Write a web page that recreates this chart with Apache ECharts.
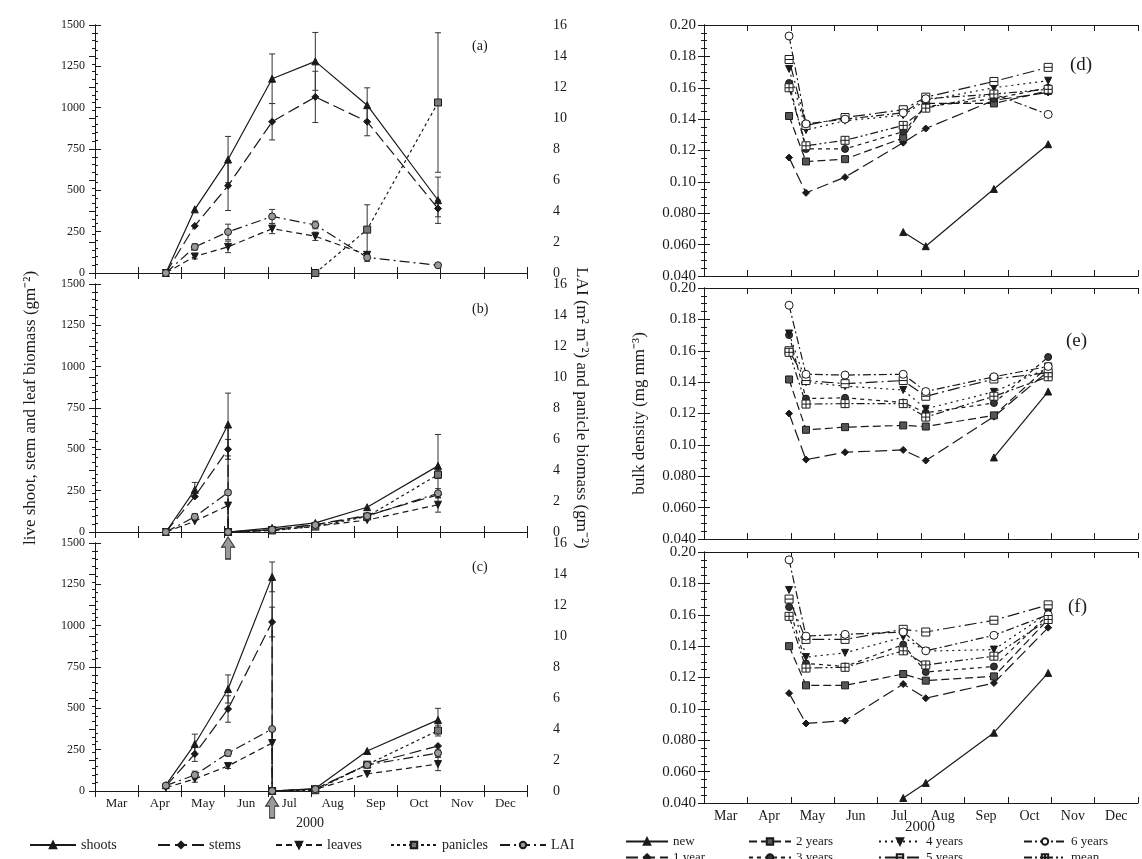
<!DOCTYPE html>
<html>
<head>
<meta charset="utf-8">
<script src="https://cdn.jsdelivr.net/npm/echarts@6/dist/echarts.min.js"></script>
<style>
  html, body { margin: 0; padding: 0; background: #fff; }
  #chart { width: 1142px; height: 859px; }
</style>
</head>
<body>
<div id="chart"></div>
<script>
// month axis: 0 = 1 March, 10 = 1 January
const months = ['Mar', 'Apr', 'May', 'Jun', 'Jul', 'Aug', 'Sep', 'Oct', 'Nov', 'Dec'];

// ---- panel (a)
const datesA = [1.64, 2.31, 3.08, 4.10, 5.10, 6.30, 7.94];
const shootsA = [0, 385, 686, 1175, 1280, 1015, 440];
const shootsAErr = [0, 0, 140, 150, 175, 105, 140];
const stemsA = [0, 285, 528, 915, 1065, 915, 390];
const stemsAErr = [0, 0, 150, 110, 155, 85, 50];
const leavesA = [0, 100, 158, 268, 222, 110, null];
const leavesAErr = [0, 15, 35, 30, 25, 0, 0];
const laiA = [0, 1.68, 2.65, 3.65, 3.1, 1.0, 0.5];
const laiAErr = [0, 0.2, 0.5, 0.45, 0.25, 0.25, 0];
const panDatesA = [5.10, 6.30, 7.94];
const panA = [0, 2.8, 11.0];
const panAErr = [0, 1.6, 4.5];

// ---- panel (b), cut in June
const harvestB = 3.08;
const datesB = [1.64, 2.31, 3.08, 3.08, 4.10, 5.10, 6.30, 7.94];
const shootsB = [0, 255, 650, 0, 25, 55, 150, 400];
const shootsBErr = [0, 45, 190, 0, 0, 0, 0, 190];
const stemsB = [0, 215, 500, 0, 15, 45, 100, 225];
const stemsBErr = [0, 0, 60, 0, 0, 0, 0, 0];
const leavesB = [0, 65, 160, 0, 10, 35, 72, 165];
const leavesBErr = [0, 0, 0, 0, 0, 0, 0, 45];
const laiB = [0, 0.98, 2.55, 0, 0.15, 0.45, 1.03, 2.5];
const laiBErr = [0, 0.2, 0, 0, 0, 0, 0, 0.3];
const panDatesB = [3.08, 4.10, 5.10, 6.30, 7.94];
const panB = [0, 0.1, 0.35, 1.0, 3.7];
const panBErr = [0, 0, 0, 0, 0.25];

// ---- panel (c), cut in July
const harvestC = 4.10;
const datesC = [1.64, 2.31, 3.08, 4.10, 4.10, 5.10, 6.30, 7.94];
const shootsC = [35, 284, 617, 1295, 0, 15, 242, 430];
const shootsCErr = [0, 60, 85, 90, 0, 0, 0, 70];
const stemsC = [30, 224, 496, 1022, 0, 12, 160, 272];
const stemsCErr = [0, 45, 80, 90, 0, 0, 0, 0];
const leavesC = [20, 73, 151, 290, 0, 10, 103, 163];
const leavesCErr = [0, 20, 15, 0, 0, 0, 0, 40];
const laiC = [0.35, 1.03, 2.45, 4.0, 0, 0.12, 1.68, 2.45];
const laiCErr = [0.1, 0.25, 0.2, 0, 0, 0, 0, 0.2];
const panDatesC = [4.10, 5.10, 6.30, 7.94];
const panC = [0, 0.05, 1.7, 3.9];
const panCErr = [0, 0, 0, 0.35];

// ---- bulk density panels (d), (e), (f)
const densDates = [1.96, 2.35, 3.25, 4.59, 5.11, 6.68, 7.93];
const ageNames = ['new', '1 year', '2 years', '3 years', '4 years', '5 years', '6 years', 'mean'];

const newD   = [null, null, null, 0.068, 0.059, 0.0955, 0.124];
const y1D    = [0.1155, 0.093, 0.103, 0.125, 0.134, 0.152, 0.157];
const y2D    = [0.142, 0.113, 0.1145, 0.128, 0.150, 0.150, 0.158];
const y3D    = [0.163, 0.121, 0.121, 0.132, 0.148, 0.153, 0.160];
const y4D    = [0.172, 0.133, 0.139, 0.1425, 0.152, 0.160, 0.1645];
const y5D    = [0.178, 0.136, 0.141, 0.146, 0.154, 0.164, 0.173];
const y6D    = [0.193, 0.137, 0.140, 0.144, 0.153, 0.156, 0.143];
const meanD  = [0.160, 0.123, 0.1265, 0.136, 0.147, 0.156, 0.159];

const newE   = [null, null, null, null, null, 0.092, 0.134];
const y1E    = [0.120, 0.0906, 0.0953, 0.0968, 0.090, 0.118, 0.147];
const y2E    = [0.1417, 0.1096, 0.1113, 0.1124, 0.1117, 0.1188, 0.150];
const y3E    = [0.170, 0.1295, 0.130, 0.127, 0.1205, 0.1267, 0.156];
const y4E    = [0.171, 0.140, 0.1374, 0.135, 0.123, 0.1338, 0.149];
const y5E    = [0.160, 0.141, 0.139, 0.141, 0.131, 0.142, 0.146];
const y6E    = [0.189, 0.145, 0.1445, 0.145, 0.134, 0.1434, 0.150];
const meanE  = [0.159, 0.126, 0.1263, 0.1263, 0.1177, 0.131, 0.1434];

const newF   = [null, null, null, 0.0432, 0.0528, 0.0848, 0.1229];
const y1F    = [0.110, 0.0907, 0.0925, 0.1158, 0.1068, 0.1165, 0.1518];
const y2F    = [0.140, 0.115, 0.115, 0.1222, 0.118, 0.1207, 0.157];
const y3F    = [0.165, 0.129, 0.127, 0.141, 0.1235, 0.127, 0.160];
const y4F    = [0.1758, 0.133, 0.1357, 0.1458, 0.1368, 0.1378, 0.161];
const y5F    = [0.170, 0.1443, 0.1443, 0.1507, 0.149, 0.1565, 0.1663];
const y6F    = [0.195, 0.1464, 0.1475, 0.149, 0.137, 0.1469, 0.160];
const meanF  = [0.159, 0.126, 0.1265, 0.137, 0.128, 0.1336, 0.157];

const FONT = 'Liberation Serif';
const INK = '#1a1a1a';

const zip = (xs, ys) => xs.map((x, i) => [x, ys[i] == null ? '-' : ys[i]]);
const errData = (xs, ys, es) => xs.map((x, i) => [x, ys[i], es[i]])
  .filter(d => d[1] != null && d[2] > 0)
  .map(d => [d[0], d[1] - d[2], d[1] + d[2]]);

// grids
const leftTops = [25, 284, 543];
const rightTops = [25, 288, 552];
const grids = [];
leftTops.forEach(t => grids.push({ left: 95, width: 432, top: t, height: 248 }));
rightTops.forEach(t => grids.push({ left: 704, width: 434, top: t, height: 251 }));

const tickStyle = { inside: true, length: 6, lineStyle: { color: INK } };
const minorStyle = { show: true, length: 3, lineStyle: { color: INK } };
const lineStyle = { lineStyle: { color: INK, width: 1 } };

const xAxes = [];
const yAxes = [];
grids.forEach((g, i) => {
  xAxes.push({ type: 'value', gridIndex: i, min: 0, max: 10, interval: 1, position: 'bottom',
    axisLine: lineStyle, axisTick: tickStyle, axisLabel: { show: false }, splitLine: { show: false } });
  xAxes.push({ type: 'value', gridIndex: i, min: 0, max: 10, interval: 1, position: 'top',
    axisLine: lineStyle, axisTick: tickStyle, axisLabel: { show: false }, splitLine: { show: false } });
});
// month labels under the bottom panels
[2, 5].forEach((gi, k) => {
  xAxes.push({ type: 'category', gridIndex: gi, data: months, position: 'bottom', boundaryGap: true,
    axisLine: { show: false }, axisTick: { show: false }, splitLine: { show: false },
    axisLabel: { color: INK, fontFamily: FONT, fontSize: k === 0 ? 13 : 14, margin: 6 } });
});

const leftTitle = 'live shoot, stem and leaf biomass (gm\u207B\u00B2)';
const laiTitle = 'LAI (m\u00B2 m\u207B\u00B2) and panicle biomass (gm\u207B\u00B2)';
const densTitle = 'bulk density (mg mm\u207B\u00B3)';

for (let i = 0; i < 3; i++) {
  yAxes.push({ type: 'value', gridIndex: i, min: 0, max: 1500, interval: 250, position: 'left',
    axisLine: lineStyle, axisTick: tickStyle, minorTick: Object.assign({ splitNumber: 5 }, minorStyle),
    splitLine: { show: false }, minorSplitLine: { show: false },
    axisLabel: { color: INK, fontFamily: FONT, fontSize: 12, margin: 10, formatter: v => String(v) },
    name: i === 1 ? leftTitle : '', nameLocation: 'middle', nameGap: 56,
    nameTextStyle: { color: INK, fontFamily: FONT, fontSize: 17 } });
  yAxes.push({ type: 'value', gridIndex: i, min: 0, max: 16, interval: 2, position: 'right',
    axisLine: lineStyle, axisTick: tickStyle, minorTick: Object.assign({ splitNumber: 4 }, minorStyle),
    splitLine: { show: false }, minorSplitLine: { show: false },
    axisLabel: { color: INK, fontFamily: FONT, fontSize: 14, margin: 26, formatter: v => String(v) },
    name: i === 1 ? laiTitle : '', nameLocation: 'middle', nameGap: 46, nameRotate: -90,
    nameTextStyle: { color: INK, fontFamily: FONT, fontSize: 17 } });
}
for (let i = 3; i < 6; i++) {
  yAxes.push({ type: 'value', gridIndex: i, min: 0.04, max: 0.20, interval: 0.02, position: 'left',
    axisLine: lineStyle, axisTick: tickStyle, minorTick: Object.assign({ splitNumber: 4 }, minorStyle),
    splitLine: { show: false }, minorSplitLine: { show: false },
    axisLabel: { color: INK, fontFamily: FONT, fontSize: 15, margin: 8,
      formatter: v => (Math.round(v * 1000) >= 100 ? v.toFixed(2) : v.toFixed(3)) },
    name: i === 4 ? densTitle : '', nameLocation: 'middle', nameGap: 56,
    nameTextStyle: { color: INK, fontFamily: FONT, fontSize: 17 } });
  yAxes.push({ type: 'value', gridIndex: i, min: 0.04, max: 0.20, interval: 0.02, position: 'right',
    axisLine: lineStyle, axisTick: tickStyle, minorTick: Object.assign({ splitNumber: 4 }, minorStyle),
    splitLine: { show: false }, minorSplitLine: { show: false }, axisLabel: { show: false } });
}

// series styles
const leftStyle = {
  shoots:   { symbol: 'triangle', rotate: 0,   dash: 'solid',        fill: INK,    size: 7 },
  stems:    { symbol: 'diamond',  rotate: 0,   dash: [12, 5],        fill: INK,    size: 7 },
  leaves:   { symbol: 'triangle', rotate: 180, dash: [6, 4],         fill: INK,    size: 7 },
  panicles: { symbol: 'rect',     rotate: 0,   dash: [3, 3],         fill: '#777', size: 7 },
  LAI:      { symbol: 'circle',   rotate: 0,   dash: [10, 4, 2, 4],  fill: '#999', size: 7 }
};
const boxH = 'path://M0,0H10V10H0Z M0,5H10';
const boxX = 'path://M0,0H10V10H0Z M5,0V10 M0,5H10';
const rightStyle = {
  'new':     { symbol: 'triangle', rotate: 0,   dash: 'solid',              fill: INK,    size: 7 },
  '1 year':  { symbol: 'diamond',  rotate: 0,   dash: [12, 5],              fill: INK,    size: 7 },
  '2 years': { symbol: 'rect',     rotate: 0,   dash: [8, 4],               fill: '#555', size: 7 },
  '3 years': { symbol: 'circle',   rotate: 0,   dash: [4, 4],               fill: '#333', size: 7 },
  '4 years': { symbol: 'triangle', rotate: 180, dash: [2, 4],               fill: INK,    size: 7 },
  '5 years': { symbol: boxH,       rotate: 0,   dash: [2, 4, 12, 4],        fill: '#fff', size: 8 },
  '6 years': { symbol: 'circle',   rotate: 0,   dash: [8, 3, 2, 3],         fill: '#fff', size: 8 },
  'mean':    { symbol: boxX,       rotate: 0,   dash: [8, 3, 2, 3, 2, 3],   fill: '#fff', size: 8 }
};

function lineSeries(name, st, gi, yi, data) {
  return {
    name, type: 'line', xAxisIndex: gi * 2, yAxisIndex: yi, data,
    symbol: st.symbol, symbolRotate: st.rotate, symbolSize: st.size, showAllSymbol: true,
    lineStyle: { color: INK, width: 1.2, type: st.dash },
    itemStyle: { color: st.fill, borderColor: INK, borderWidth: 1 },
    emphasis: { disabled: true }, z: 3, animation: false
  };
}

function errSeries(gi, yi, data) {
  return {
    type: 'custom', xAxisIndex: gi * 2, yAxisIndex: yi, data, z: 2, silent: true,
    encode: { x: 0, y: [1, 2] }, animation: false,
    renderItem: (params, api) => {
      const x = api.value(0);
      const lo = api.coord([x, api.value(1)]);
      const hi = api.coord([x, api.value(2)]);
      const s = { stroke: '#333', lineWidth: 1 };
      return { type: 'group', children: [
        { type: 'line', shape: { x1: lo[0], y1: lo[1], x2: hi[0], y2: hi[1] }, style: s },
        { type: 'line', shape: { x1: lo[0] - 3, y1: lo[1], x2: lo[0] + 3, y2: lo[1] }, style: s },
        { type: 'line', shape: { x1: hi[0] - 3, y1: hi[1], x2: hi[0] + 3, y2: hi[1] }, style: s }
      ] };
    }
  };
}

const leftPanels = [
  { dates: datesA, shoots: [shootsA, shootsAErr], stems: [stemsA, stemsAErr], leaves: [leavesA, leavesAErr],
    lai: [laiA, laiAErr], panDates: panDatesA, pan: [panA, panAErr], harvest: null },
  { dates: datesB, shoots: [shootsB, shootsBErr], stems: [stemsB, stemsBErr], leaves: [leavesB, leavesBErr],
    lai: [laiB, laiBErr], panDates: panDatesB, pan: [panB, panBErr], harvest: harvestB },
  { dates: datesC, shoots: [shootsC, shootsCErr], stems: [stemsC, stemsCErr], leaves: [leavesC, leavesCErr],
    lai: [laiC, laiCErr], panDates: panDatesC, pan: [panC, panCErr], harvest: harvestC }
];

const series = [];
leftPanels.forEach((p, gi) => {
  const yl = gi * 2, yr = gi * 2 + 1;
  series.push(errSeries(gi, yl, [].concat(
    errData(p.dates, p.shoots[0], p.shoots[1]),
    errData(p.dates, p.stems[0], p.stems[1]),
    errData(p.dates, p.leaves[0], p.leaves[1]))));
  series.push(errSeries(gi, yr, [].concat(
    errData(p.dates, p.lai[0], p.lai[1]),
    errData(p.panDates, p.pan[0], p.pan[1]))));
  const sh = lineSeries('shoots', leftStyle.shoots, gi, yl, zip(p.dates, p.shoots[0]));
  if (p.harvest != null) {
    sh.markPoint = {
      silent: true, animation: false,
      symbol: 'path://M5,0 L10,6 L7,6 L7,13 L3,13 L3,6 L0,6 Z',
      symbolSize: [13, 22], symbolOffset: [0, 16],
      itemStyle: { color: '#9a9a9a', borderColor: '#333', borderWidth: 1 },
      label: { show: false },
      data: [{ coord: [p.harvest, 0] }]
    };
  }
  series.push(sh);
  series.push(lineSeries('stems', leftStyle.stems, gi, yl, zip(p.dates, p.stems[0])));
  series.push(lineSeries('leaves', leftStyle.leaves, gi, yl, zip(p.dates, p.leaves[0])));
  series.push(lineSeries('panicles', leftStyle.panicles, gi, yr, zip(p.panDates, p.pan[0])));
  series.push(lineSeries('LAI', leftStyle.LAI, gi, yr, zip(p.dates, p.lai[0])));
});

const rightPanels = [
  [newD, y1D, y2D, y3D, y4D, y5D, y6D, meanD],
  [newE, y1E, y2E, y3E, y4E, y5E, y6E, meanE],
  [newF, y1F, y2F, y3F, y4F, y5F, y6F, meanF]
];
rightPanels.forEach((vals, k) => {
  const gi = 3 + k;
  ageNames.forEach((nm, j) => {
    series.push(lineSeries(nm, rightStyle[nm], gi, gi * 2, zip(densDates, vals[j])));
  });
});

// one legend component per entry, so each sits where it sits in the figure
const legendRows = [
  { names: ['shoots', 'stems', 'leaves', 'panicles', 'LAI'], lefts: [24, 152, 270, 385, 494], top: 833, size: 14, w: 46 },
  { names: ['new', '2 years', '4 years', '6 years'], lefts: [620, 743, 873, 1018], top: 830, size: 13, w: 42 },
  { names: ['1 year', '3 years', '5 years', 'mean'], lefts: [620, 743, 873, 1018], top: 846, size: 13, w: 42 }
];
const legends = [];
legendRows.forEach(row => row.names.forEach((nm, i) => {
  legends.push({ left: row.lefts[i], top: row.top, itemWidth: row.w, itemHeight: 8, data: [nm],
    textStyle: { color: INK, fontFamily: FONT, fontSize: row.size }, selectedMode: false });
}));

const panelLabel = (txt, x, y, size) => ({
  type: 'text', left: x, top: y, z: 10,
  style: { text: txt, fill: INK, font: size + 'px "' + FONT + '"' }
});

const option = {
  backgroundColor: '#fff',
  animation: false,
  grid: grids,
  xAxis: xAxes,
  yAxis: yAxes,
  legend: legends,
  series: series,
  graphic: [
    panelLabel('(a)', 472, 39, 14),
    panelLabel('(b)', 472, 302, 14),
    panelLabel('(c)', 472, 560, 14),
    panelLabel('(d)', 1070, 56, 19),
    panelLabel('(e)', 1066, 332, 19),
    panelLabel('(f)', 1068, 598, 19),
    panelLabel('2000', 296, 816, 14),
    panelLabel('2000', 905, 820, 15)
  ]
};

const chart = echarts.init(document.getElementById('chart'), null, { renderer: 'canvas' });
chart.setOption(option);
</script>
</body>
</html>
